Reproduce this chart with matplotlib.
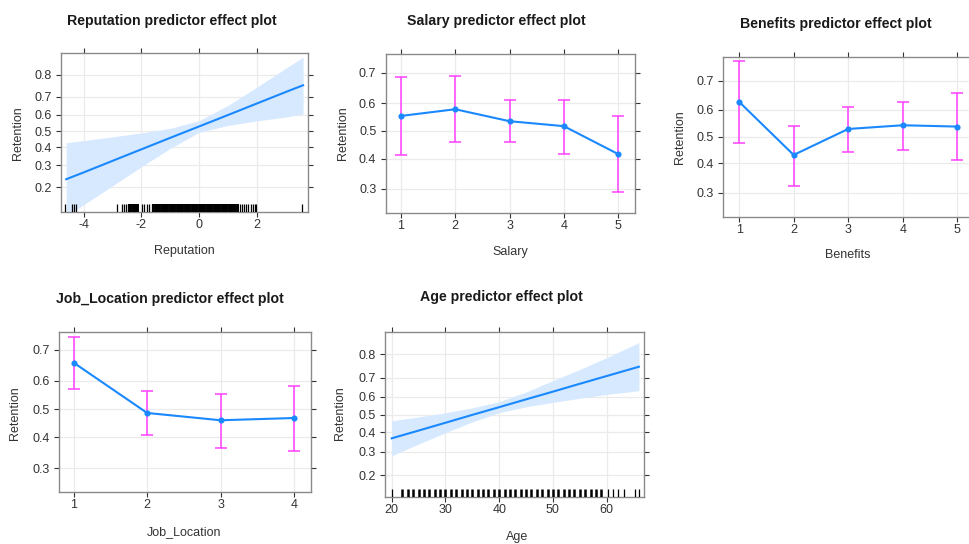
import numpy as np
import matplotlib
matplotlib.use('Agg')
import matplotlib.pyplot as plt
from matplotlib.ticker import FixedLocator, FixedFormatter, NullLocator

plt.rcParams['font.family'] = ['Liberation Sans', 'DejaVu Sans']
plt.rcParams['axes.unicode_minus'] = False

W, H = 969, 544

# Reputation (continuous predictor, fit + 95% band, logit scale)
rep_x = [-4.6, -4, -3, -2, -1, 0, 1, 2, 3, 3.6]
rep_fit = [0.234, 0.265, 0.324, 0.389, 0.458, 0.528, 0.597, 0.663, 0.723, 0.755]
rep_lo = [0.109, 0.140, 0.206, 0.293, 0.395, 0.492, 0.534, 0.562, 0.585, 0.603]
rep_hi = [0.428, 0.441, 0.464, 0.488, 0.516, 0.563, 0.652, 0.746, 0.824, 0.860]
rep_rug_sparse = [-4.65, -4.4, -4.34, -4.26,
                  -2.84, -2.67, -2.61, -2.53, -2.46,
                  -1.96, -1.89, -1.81, -1.73, -1.64,
                  1.4, 1.47, 1.55, 1.62, 1.7, 1.78, 1.86, 1.93, 1.98, 3.56]
rep_rug_dense = [-2.42, -2.38, -2.34, -2.3, -2.26, -2.22, -2.18, -2.14, -2.1,
                 -1.58, -1.54, -1.50, -1.46, -1.42, -1.38, -1.34, -1.30, -1.26,
                 -1.22, -1.18, -1.14, -1.10, -1.06, -1.02, -0.98, -0.94, -0.90,
                 -0.86, -0.82, -0.78, -0.74, -0.70, -0.66, -0.62, -0.58, -0.54,
                 -0.50, -0.46, -0.42, -0.38, -0.34, -0.30, -0.26, -0.22, -0.18,
                 -0.14, -0.10, -0.06, -0.02, 0.02, 0.06, 0.10, 0.14, 0.18, 0.22,
                 0.26, 0.30, 0.34, 0.38, 0.42, 0.46, 0.50, 0.54, 0.58, 0.62,
                 0.66, 0.70, 0.74, 0.78, 0.82, 0.86, 0.90, 0.94, 0.98, 1.02,
                 1.06, 1.10, 1.14, 1.18, 1.22, 1.26, 1.30, 1.34]

# Salary (factor levels)
salary_lvl = [1, 2, 3, 4, 5]
salary_fit = [0.554, 0.578, 0.535, 0.517, 0.416]
salary_lo = [0.412, 0.459, 0.459, 0.417, 0.290]
salary_hi = [0.688, 0.690, 0.612, 0.612, 0.554]

# Benefits
benefits_lvl = [1, 2, 3, 4, 5]
benefits_fit = [0.629, 0.431, 0.529, 0.543, 0.538]
benefits_lo = [0.475, 0.322, 0.443, 0.450, 0.413]
benefits_hi = [0.758, 0.542, 0.611, 0.630, 0.658]

# Job_Location
job_lvl = [1, 2, 3, 4]
job_fit = [0.660, 0.486, 0.460, 0.468]
job_lo = [0.573, 0.408, 0.364, 0.354]
job_hi = [0.737, 0.565, 0.555, 0.582]

# Age (continuous)
age_x = [20, 25, 30, 35, 40, 45, 50, 55, 60, 66]
age_fit = [0.368, 0.410, 0.454, 0.499, 0.543, 0.587, 0.629, 0.670, 0.708, 0.750]
age_lo = [0.281, 0.338, 0.398, 0.459, 0.512, 0.545, 0.570, 0.593, 0.614, 0.634]
age_hi = [0.465, 0.487, 0.511, 0.539, 0.574, 0.627, 0.686, 0.738, 0.787, 0.839]
age_rug_dense = [22, 23, 24, 25, 26, 27, 28, 29, 30, 31, 32, 33, 34, 35, 36,
                 37, 38, 39, 40, 41, 42, 43, 44, 45, 46, 47, 48, 49, 50, 51,
                 52, 53, 54, 55, 56, 57, 58, 59]
age_rug_sparse = [20, 60.2, 61.1, 62.1, 63.2, 65.2, 66]

BLUE = '#1a88ff'
BAND = '#d6e9ff'
MAGENTA = '#ff40ff'
TXT = '#333333'

fig = plt.figure(figsize=(W / 100, H / 100), dpi=100)


def make_axes(box, xlim, ylim, xticks, yticks):
    '''box is (left, top, right, bottom) in pixels.'''
    l, t, r, b = box
    ax = fig.add_axes([l / W, 1 - b / H, (r - l) / W, (b - t) / H])
    ax.set_yscale('logit')
    ax.set_ylim(ylim)
    ax.set_xlim(xlim)
    ax.yaxis.set_major_locator(FixedLocator(yticks))
    ax.yaxis.set_major_formatter(FixedFormatter(['%g' % v for v in yticks]))
    ax.yaxis.set_minor_locator(NullLocator())
    ax.set_xticks(xticks)
    ax.set_xticklabels(['%g' % v for v in xticks])
    ax.grid(color='#ebebeb', lw=0.9)
    ax.set_axisbelow(True)
    for s in ax.spines.values():
        s.set_color('#8a8a8a')
        s.set_linewidth(1.0)
    ax.tick_params(left=True, bottom=True, top=True, right=True,
                   direction='out', length=3.6, width=0.8, color='#333333',
                   labelsize=9, labelcolor=TXT)
    ax.tick_params(axis='x', pad=1.5)
    ax.tick_params(axis='y', pad=3.2)
    return ax


def continuous_panel(box, xlim, ylim, xticks, x, fit, lo, hi):
    ax = make_axes(box, xlim, ylim, xticks, [0.2, 0.3, 0.4, 0.5, 0.6, 0.7, 0.8])
    ax.fill_between(x, lo, hi, color=BAND, lw=0, zorder=2)
    ax.plot(x, fit, color=BLUE, lw=1.5, zorder=3)
    return ax


def factor_panel(box, xlim, ylim, lvl, fit, lo, hi):
    ax = make_axes(box, xlim, ylim, lvl, [0.3, 0.4, 0.5, 0.6, 0.7])
    fit = np.array(fit)
    err = [fit - np.array(lo), np.array(hi) - fit]
    ax.errorbar(lvl, fit, yerr=err, fmt='none', ecolor=MAGENTA, elinewidth=1.1,
                capsize=4.3, capthick=1.1, zorder=2)
    ax.plot(lvl, fit, color=BLUE, lw=1.5, marker='o', ms=3.4, zorder=3)
    return ax


def rug(ax, vals, lw):
    ax.vlines(vals, 0, 0.048, transform=ax.get_xaxis_transform(),
              color='black', lw=lw, zorder=4)


def label(x, y, s, **kw):
    fig.text(x / W, 1 - y / H, s, ha='center', va='center', **kw)


# --- panel 1: Reputation
ax1 = continuous_panel((61, 53, 308, 212), (-4.78, 3.77), (0.12, 0.872),
                       [-4, -2, 0, 2], rep_x, rep_fit, rep_lo, rep_hi)
rug(ax1, rep_rug_sparse, 0.9)
rug(ax1, rep_rug_dense, 1.4)

# --- panel 2: Salary
factor_panel((385.7, 54, 635, 213.3), (0.72, 5.31), (0.231, 0.754),
             salary_lvl, salary_fit, salary_lo, salary_hi)

# --- panel 3: Benefits (runs past the right edge)
factor_panel((723.3, 57.3, 973.6, 216.7), (0.71, 5.3), (0.229, 0.769),
             benefits_lvl, benefits_fit, benefits_lo, benefits_hi)

# --- panel 4: Job_Location
factor_panel((59, 332.3, 311, 492.3), (0.8, 4.23), (0.233, 0.75),
             job_lvl, job_fit, job_lo, job_hi)

# --- panel 5: Age
ax5 = continuous_panel((385, 331.7, 644.3, 497.3), (18.75, 67), (0.131, 0.87),
                       [20, 30, 40, 50, 60], age_x, age_fit, age_lo, age_hi)
rug(ax5, age_rug_dense, 1.8)
rug(ax5, age_rug_sparse, 0.9)

# titles
tkw = dict(fontsize=10.2, fontweight='bold', color='#1a1a1a')
label(171.5, 21.5, 'Reputation predictor effect plot', **tkw)
label(496.8, 21.5, 'Salary predictor effect plot', **tkw)
label(835.5, 24, 'Benefits predictor effect plot', **tkw)
label(170.3, 299, 'Job_Location predictor effect plot', **tkw)
label(501.8, 297.3, 'Age predictor effect plot', **tkw)

# axis labels
lkw = dict(fontsize=9, color=TXT)
label(184, 250.7, 'Reputation', **lkw)
label(510, 251.7, 'Salary', **lkw)
label(848, 255, 'Benefits', **lkw)
label(184, 531.7, 'Job_Location', **lkw)
label(516.7, 536.7, 'Age', **lkw)
label(18.3, 133, 'Retention', rotation=90, **lkw)
label(342.7, 133, 'Retention', rotation=90, **lkw)
label(680, 137, 'Retention', rotation=90, **lkw)
label(15, 413, 'Retention', rotation=90, **lkw)
label(340, 413, 'Retention', rotation=90, **lkw)

fig.savefig('out.png', dpi=100)
